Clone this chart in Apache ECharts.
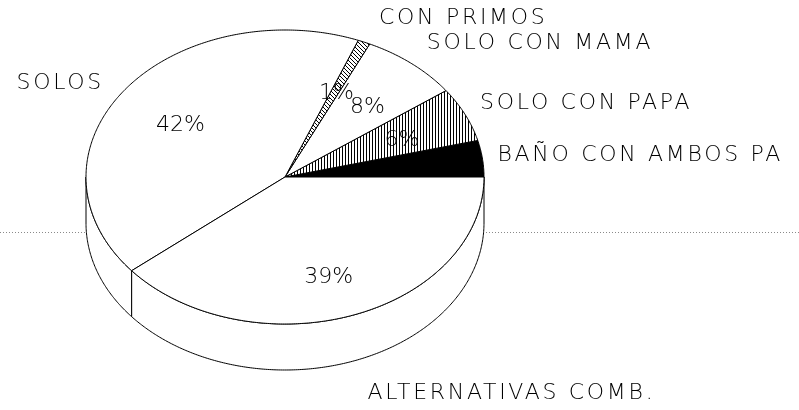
<!DOCTYPE html>
<html>
<head>
<meta charset="utf-8">
<script src="https://cdn.jsdelivr.net/npm/echarts@6/dist/echarts.min.js"></script>
<style>
  html, body { margin: 0; background: #fff; }
  #chart { width: 799px; height: 410px; }
</style>
</head>
<body>
<div id="chart"></div>
<script>
// datos del grafico (sentido antihorario desde las 3 en punto)
const categories = ['BAÑO CON AMBOS PA', 'SOLO CON PAPA', 'SOLO CON MAMA', 'CON PRIMOS', 'SOLOS', 'ALTERNATIVAS COMB.'];
const shares = [4, 6, 8, 1, 42, 39];
const pctLabels = ['4%', '6%', '8%', '1%', '42%', '39%'];

// estilo
const fills = ['black', 'vline', 'white', 'diag', 'white', 'white'];
const CX = 285, CY = 177, RX = 199, RY = 147, DEPTH = 46;
const K = RY / RX;
const FONT = '"DejaVu Sans", sans-serif';

function hatch(kind) {
  const c = document.createElement('canvas');
  c.width = kind === 'vline' ? 3 : 4;
  c.height = 4;
  const g = c.getContext('2d');
  g.fillStyle = '#fff';
  g.fillRect(0, 0, c.width, c.height);
  g.fillStyle = '#000';
  if (kind === 'vline') {
    g.fillRect(0, 0, 1, 4);
  } else {
    for (let i = 0; i < 4; i++) g.fillRect(i, i, 1, 1);
  }
  return { image: c, repeat: 'repeat' };
}
const fillFor = (f) => (f === 'black' ? '#000' : f === 'white' ? '#fff' : hatch(f));

// tabla de porciones (inicio / fin acumulados)
const slices = [];
let acc = 0;
shares.forEach((v, i) => {
  slices.push({ value: [acc, acc + v], idx: i });
  acc += v;
});

// punto en la elipse usando la escala polar de echarts
function ell(api, r, v) {
  const p = api.coord([r, v]);
  return [p[0], CY + (p[1] - CY) * K];
}
function arc(api, r, a, b, dy) {
  const n = Math.max(2, Math.ceil(Math.abs(b - a) / 0.15));
  const pts = [];
  for (let k = 0; k <= n; k++) {
    const p = ell(api, r, a + (b - a) * k / n);
    pts.push([p[0], p[1] + dy]);
  }
  return pts;
}

function renderPie(params, api) {
  const i = params.dataIndex;
  const s = api.value(0), e = api.value(1);
  const fill = fillFor(fills[i]);
  const children = [];
  // cara lateral (solo la mitad frontal)
  const fs = Math.max(s, 50), fe = Math.min(e, 100);
  if (fs < fe) {
    const pts = arc(api, 1, fs, fe, 0).concat(arc(api, 1, fe, fs, DEPTH));
    children.push({
      type: 'polygon', z2: 1,
      shape: { points: pts },
      style: { fill: fill, stroke: '#000', lineWidth: 1 }
    });
  }
  // cara superior
  const top = [[CX, CY]].concat(arc(api, 1, s, e, 0));
  children.push({
    type: 'polygon', z2: 2,
    shape: { points: top },
    style: { fill: fill, stroke: '#000', lineWidth: 1, lineJoin: 'round' }
  });
  // porcentaje
  const mid = (s + e) / 2;
  const front = Math.sin(mid / 50 * Math.PI) < 0;
  const p = ell(api, 0.65, mid);
  children.push({
    type: 'text', z2: 3,
    x: p[0], y: p[1] + 4 + (front ? 6 : 0),
    style: {
      text: pctLabels[i], fill: '#000', align: 'center', verticalAlign: 'middle',
      fontFamily: FONT, fontSize: 22, fontWeight: 200
    }
  });
  return { type: 'group', children: children };
}

function renderNames(params, api) {
  const i = params.dataIndex;
  const s = api.value(0), e = api.value(1);
  const mid = (s + e) / 2;
  const p = ell(api, 1, mid);
  const ang = mid / 50 * Math.PI;
  const right = Math.cos(ang) >= 0;
  const front = Math.sin(ang) < 0;
  const gy = front ? 34 : (right ? 26 : 12);
  return {
    type: 'text',
    x: p[0] + (right ? 15 : -20),
    y: p[1] - gy * Math.sin(ang) + (front ? DEPTH : 0),
    style: {
      text: categories[i], fill: '#000',
      align: right ? 'left' : 'right', verticalAlign: 'middle',
      fontFamily: FONT, fontSize: 22, fontWeight: 200
    }
  };
}

const chart = echarts.init(document.getElementById('chart'));
// espaciado de letras amplio para los nombres (capa propia)
try {
  const layer = chart.getZr().painter.getLayer(1);
  if (layer && layer.ctx) layer.ctx.letterSpacing = '2.7px';
} catch (err) {}

chart.setOption({
  animation: false,
  polar: { center: [CX, CY], radius: RX },
  angleAxis: { type: 'value', min: 0, max: 100, startAngle: 0, clockwise: false, show: false },
  radiusAxis: { type: 'value', min: 0, max: 1, show: false },
  graphic: [
    { type: 'line', shape: { x1: 0, y1: 232.5, x2: 799, y2: 232.5 },
      style: { stroke: '#8a8a8a', lineWidth: 1, lineDash: [1, 2] } },
    { type: 'line', shape: { x1: 115, y1: 140.5, x2: 300, y2: 140.5 },
      style: { stroke: '#cfcfcf', lineWidth: 1, lineDash: [1, 6] } }
  ],
  series: [
    {
      type: 'custom', coordinateSystem: 'polar', silent: true,
      data: slices, renderItem: renderPie
    },
    {
      type: 'custom', coordinateSystem: 'polar', silent: true, zlevel: 1,
      data: slices, renderItem: renderNames
    }
  ]
});
</script>
</body>
</html>
